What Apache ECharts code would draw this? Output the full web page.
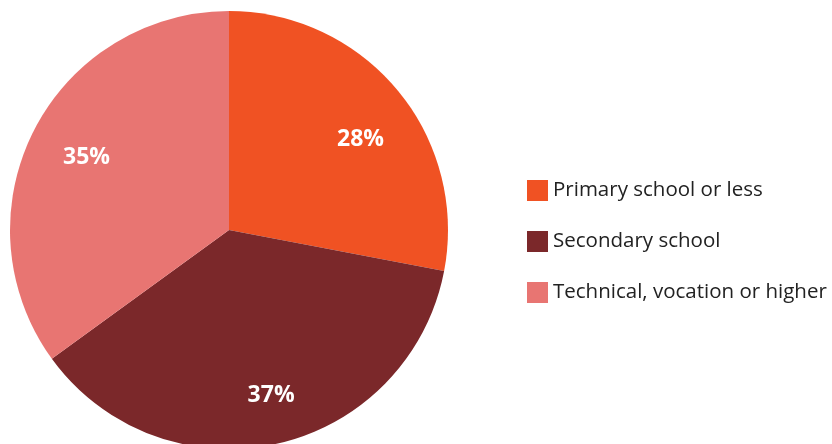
<!DOCTYPE html>
<html>
<head>
<meta charset="utf-8">
<script src="https://cdn.jsdelivr.net/npm/echarts@6/dist/echarts.min.js"></script>
<style>
  html, body { margin: 0; padding: 0; background: #ffffff; }
  #chart { width: 832px; height: 444px; }
</style>
</head>
<body>
<div id="chart"></div>
<script>
// Education level shares (%)
const categories = ['Primary school or less', 'Secondary school', 'Technical, vocation or higher'];
const shares = [28, 37, 35];
const colors = ['#F05223', '#7B282A', '#E87572'];
// small per-label nudges for the value labels
const labelOffsets = [[4, 15], [6, 4], [5, 3]];

const pieData = categories.map((name, i) => ({
  name: name,
  value: shares[i],
  itemStyle: { color: colors[i] }
}));

const chart = echarts.init(document.getElementById('chart'), null, { renderer: 'canvas' });

chart.setOption({
  animation: false,
  backgroundColor: '#ffffff',
  legend: {
    orient: 'vertical',
    left: 522,
    top: 175,
    itemWidth: 21,
    itemHeight: 21,
    itemGap: 30,
    icon: 'rect',
    data: categories,
    textStyle: {
      fontFamily: 'Open Sans',
      fontSize: 20.5,
      color: '#222222'
    }
  },
  series: [
    {
      // the filled pie itself
      type: 'pie',
      center: [229, 230],
      radius: 219,
      startAngle: 90,
      clockwise: true,
      silent: true,
      label: { show: false },
      labelLine: { show: false },
      data: pieData
    },
    {
      // transparent ring used only to place the value labels
      type: 'pie',
      center: [229, 230],
      radius: [106, 219],
      startAngle: 90,
      clockwise: true,
      silent: true,
      legendHoverLink: false,
      itemStyle: { color: 'rgba(0,0,0,0)' },
      label: {
        show: true,
        position: 'inside',
        formatter: p => p.value + '%',
        color: '#ffffff',
        fontFamily: 'Open Sans',
        fontWeight: 'bold',
        fontSize: 23
      },
      labelLine: { show: false },
      data: categories.map((name, i) => ({
        name: name,
        value: shares[i],
        label: { offset: labelOffsets[i] }
      }))
    }
  ]
});
</script>
</body>
</html>
